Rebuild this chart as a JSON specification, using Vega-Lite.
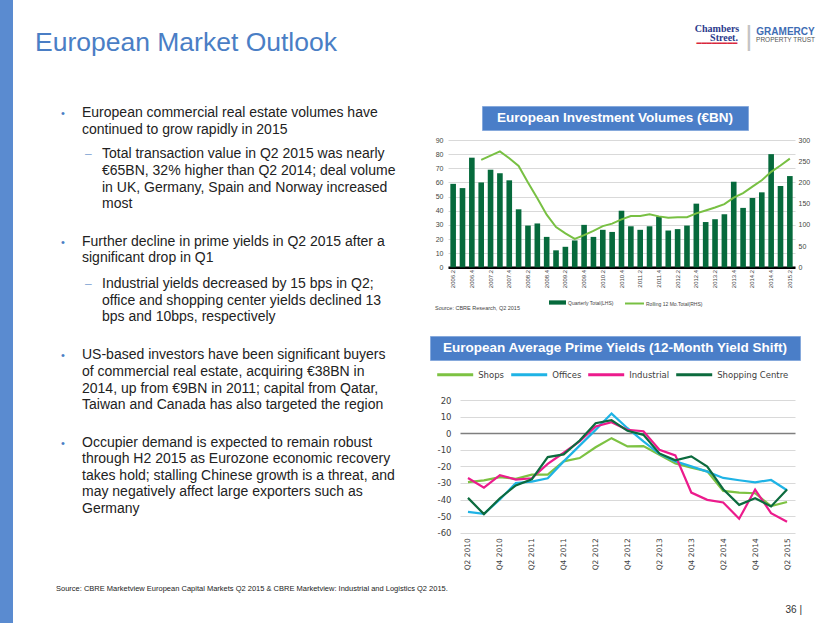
{
  "$schema": "https://vega.github.io/schema/vega-lite/v6.json",
  "padding": 0,
  "background": "white",
  "config": {
    "view": {"stroke": null},
    "font": "Liberation Sans",
    "concat": {"spacing": 0},
    "title": {"font": "Liberation Sans", "fontWeight": "normal"}
  },
  "title": {
    "text": "European Market Outlook",
    "anchor": "start",
    "frame": "group",
    "orient": "top",
    "offset": -77,
    "dx": 35,
    "baseline": "alphabetic",
    "fontSize": 26.5,
    "color": "#4a7ec5"
  },
  "bounds": "flush",
  "spacing": 0,
  "hconcat": [
    {
      "width": 13, "height": 623,
      "view": {"fill": "#5a8bd0", "stroke": null},
      "data": {"values": [{"t": ""}]},
      "mark": "text",
      "encoding": {"text": {"field": "t"}}
    },
    {
      "width": 407, "height": 580,
      "title": {"text": "Source: CBRE Marketview European Capital Markets Q2 2015 & CBRE Marketview: Industrial and Logistics Q2 2015.", "orient": "bottom", "anchor": "start", "frame": "group", "dx": 43, "offset": 5, "fontSize": 7.5, "color": "#222222", "baseline": "top"},
      "data": {"values": [
        {"level": 1, "line": 0, "bullet": "•", "text": ["European commercial real estate volumes have", "continued to grow rapidly in 2015"]},
        {"level": 2, "line": 2.47, "bullet": "–", "text": ["Total transaction value in Q2 2015 was nearly", "€65BN, 32% higher than Q2 2014; deal volume", "in UK, Germany, Spain and Norway increased", "most"]},
        {"level": 1, "line": 7.73, "bullet": "•", "text": ["Further decline in prime yields in Q2 2015 after a", "significant drop in Q1"]},
        {"level": 2, "line": 10.3, "bullet": "–", "text": ["Industrial yields decreased by 15 bps in Q2;", "office and shopping center yields declined 13", "bps and 10bps, respectively"]},
        {"level": 1, "line": 14.58, "bullet": "•", "text": ["US-based investors have been significant buyers", "of commercial real estate, acquiring €38BN in", "2014, up from €9BN in 2011; capital from Qatar,", "Taiwan and Canada has also targeted the region"]},
        {"level": 1, "line": 19.84, "bullet": "•", "text": ["Occupier demand is expected to remain robust", "through H2 2015 as Eurozone economic recovery", "takes hold; stalling Chinese growth is a threat, and", "may negatively affect large exporters such as", "Germany"]}
      ]},
      "encoding": {
        "x": {"field": "level", "type": "quantitative", "scale": {"domain": [-2.45, 17.9], "nice": false, "zero": false}, "axis": null},
        "y": {"field": "line", "type": "quantitative", "scale": {"domain": [-7.066, 27.87], "nice": false, "zero": false, "reverse": true}, "axis": null}
      },
      "layer": [
        {"mark": {"type": "text", "align": "left", "baseline": "alphabetic", "fontSize": 14, "lineHeight": 16.6, "color": "#222222"}, "encoding": {"text": {"field": "text"}}},
        {"transform": [{"filter": "datum.level == 1"}], "mark": {"type": "text", "align": "left", "baseline": "alphabetic", "fontSize": 11, "dx": -21, "color": "#4a7ec5"}, "encoding": {"text": {"field": "bullet"}}},
        {"transform": [{"filter": "datum.level == 2"}], "mark": {"type": "text", "align": "left", "baseline": "alphabetic", "fontSize": 12, "dx": -17, "color": "#8aaad6"}, "encoding": {"text": {"field": "bullet"}}}
      ]
    },
    {"width": 10, "height": 60, "data": {"values": [{}]}, "mark": "text", "encoding": {"text": {"value": ""}}},
    {
      "bounds": "flush", "spacing": 0,
      "vconcat": [
        {"width": 1, "height": 336, "data": {"values": [{}]}, "mark": "text", "encoding": {"text": {"value": ""}}},
        {"width": 370, "height": 24, "view": {"fill": "#4a7ec8", "stroke": "#86a9dc", "strokeWidth": 1},
         "data": {"values": [{"t": "European Average Prime Yields (12-Month Yield Shift)"}]},
         "mark": {"type": "text", "color": "white", "fontWeight": "bold", "fontSize": 13.5},
         "encoding": {"text": {"field": "t"}}}
      ]
    },
    {"width": 18, "height": 60, "data": {"values": [{}]}, "mark": "text", "encoding": {"text": {"value": ""}}},
    {
      "bounds": "flush", "spacing": 0,
      "vconcat": [
        {"width": 1, "height": 140, "data": {"values": [{}]}, "mark": "text", "encoding": {"text": {"value": ""}}},
        {
          "width": 347, "height": 127.3,
          "title": {"text": "Source: CBRE Research, Q2 2015", "orient": "bottom", "anchor": "start", "frame": "group", "dx": -13, "offset": 20, "fontSize": 5.5, "color": "#444444", "baseline": "middle"},
          "data": {"values": [
            {"q": "2006.2", "vol": 59, "roll": null},
            {"q": "2006.3", "vol": 56, "roll": null},
            {"q": "2006.4", "vol": 77.5, "roll": null},
            {"q": "2007.1", "vol": 60, "roll": 253},
            {"q": "2007.2", "vol": 69, "roll": 263},
            {"q": "2007.3", "vol": 66.5, "roll": 273},
            {"q": "2007.4", "vol": 61.5, "roll": 257},
            {"q": "2008.1", "vol": 41, "roll": 239},
            {"q": "2008.2", "vol": 29.5, "roll": 200},
            {"q": "2008.3", "vol": 31, "roll": 163},
            {"q": "2008.4", "vol": 21.5, "roll": 124},
            {"q": "2009.1", "vol": 12, "roll": 95},
            {"q": "2009.2", "vol": 14.5, "roll": 80},
            {"q": "2009.3", "vol": 19, "roll": 67},
            {"q": "2009.4", "vol": 30, "roll": 76},
            {"q": "2010.1", "vol": 21.5, "roll": 86},
            {"q": "2010.2", "vol": 26.5, "roll": 97},
            {"q": "2010.3", "vol": 25, "roll": 103},
            {"q": "2010.4", "vol": 40, "roll": 113},
            {"q": "2011.1", "vol": 29, "roll": 121},
            {"q": "2011.2", "vol": 26.5, "roll": 121},
            {"q": "2011.3", "vol": 29, "roll": 125},
            {"q": "2011.4", "vol": 36, "roll": 120},
            {"q": "2012.1", "vol": 26, "roll": 117},
            {"q": "2012.2", "vol": 27, "roll": 118},
            {"q": "2012.3", "vol": 29.5, "roll": 118},
            {"q": "2012.4", "vol": 45, "roll": 127},
            {"q": "2013.1", "vol": 32, "roll": 134},
            {"q": "2013.2", "vol": 34, "roll": 141},
            {"q": "2013.3", "vol": 37.5, "roll": 149},
            {"q": "2013.4", "vol": 60.5, "roll": 164},
            {"q": "2014.1", "vol": 42, "roll": 175},
            {"q": "2014.2", "vol": 49, "roll": 190},
            {"q": "2014.3", "vol": 53, "roll": 205},
            {"q": "2014.4", "vol": 80, "roll": 225},
            {"q": "2015.1", "vol": 57.5, "roll": 240},
            {"q": "2015.2", "vol": 64.5, "roll": 256}
          ]},
          "encoding": {
            "x": {"field": "q", "type": "ordinal", "sort": null,
                  "scale": {"paddingInner": 0.4, "paddingOuter": 0.25},
                  "axis": {"values": ["2006.2","2006.4","2007.2","2007.4","2008.2","2008.4","2009.2","2009.4","2010.2","2010.4","2011.2","2011.4","2012.2","2012.4","2013.2","2013.4","2014.2","2014.4","2015.2"],
                           "labelAngle": -90, "labelFontSize": 6, "labelColor": "#444444", "labelPadding": 2, "ticks": false,
                           "domain": true, "domainColor": "#000000", "domainWidth": 2.5, "grid": false, "title": null}}
          },
          "layer": [
            {
              "mark": {"type": "bar"},
              "encoding": {
                "y": {"field": "vol", "type": "quantitative", "scale": {"domain": [0, 90], "nice": false},
                      "axis": {"orient": "left", "values": [0,10,20,30,40,50,60,70,80,90], "labelOverlap": false, "labelFontSize": 7, "labelColor": "#444444", "ticks": false, "domain": false, "grid": true, "gridColor": "#d9d9d9", "labelPadding": 5, "title": null}},
                "fill": {"datum": "Quarterly Total(LHS)", "type": "nominal", "scale": {"range": ["#066a3c"]},
                         "legend": {"orient": "none", "legendX": 549, "legendY": 294, "title": null, "symbolType": "M-1,-0.25H1V0.25H-1Z", "symbolSize": 289, "symbolStrokeWidth": 0, "labelFontSize": 5, "labelColor": "#444444", "labelOffset": 2, "padding": 0}}
              }
            },
            {
              "mark": {"type": "line", "strokeWidth": 2},
              "encoding": {
                "y": {"field": "roll", "type": "quantitative", "scale": {"domain": [0, 300], "nice": false},
                      "axis": {"orient": "right", "values": [0,50,100,150,200,250,300], "labelOverlap": false, "labelFontSize": 7, "labelColor": "#444444", "ticks": false, "domain": false, "grid": false, "labelPadding": 3, "title": null}},
                "stroke": {"datum": "Rolling 12 Mo.Total(RHS)", "type": "nominal", "scale": {"range": ["#78c043"]},
                           "legend": {"orient": "none", "legendX": 624, "legendY": 293, "title": null, "symbolType": "stroke", "symbolSize": 361, "symbolStrokeWidth": 2, "labelFontSize": 5, "labelColor": "#444444", "labelOffset": 1, "padding": 0}}
              }
            }
          ],
          "resolve": {"scale": {"y": "independent"}}
        }
      ]
    },
    {"width": 12, "height": 60, "data": {"values": [{}]}, "mark": "text", "encoding": {"text": {"value": ""}}},
    {
      "bounds": "flush", "spacing": 0,
      "vconcat": [
        {"width": 1, "height": 400, "data": {"values": [{}]}, "mark": "text", "encoding": {"text": {"value": ""}}},
        {
          "width": 335, "height": 132.7,
          "title": {"text": "36 |", "orient": "bottom", "anchor": "end", "frame": "group", "dx": 7, "offset": 40.5, "fontSize": 10, "color": "#333333", "baseline": "middle"},
          "data": {"values": [
            {"q": "Q2 2010", "type": "Shops", "v": -29.5}, {"q": "Q3 2010", "type": "Shops", "v": -28.5}, {"q": "Q4 2010", "type": "Shops", "v": -26.5},
            {"q": "Q1 2011", "type": "Shops", "v": -27.5}, {"q": "Q2 2011", "type": "Shops", "v": -25}, {"q": "Q3 2011", "type": "Shops", "v": -25},
            {"q": "Q4 2011", "type": "Shops", "v": -17}, {"q": "Q1 2012", "type": "Shops", "v": -15}, {"q": "Q2 2012", "type": "Shops", "v": -8.5},
            {"q": "Q3 2012", "type": "Shops", "v": -3}, {"q": "Q4 2012", "type": "Shops", "v": -8}, {"q": "Q1 2013", "type": "Shops", "v": -7.8},
            {"q": "Q2 2013", "type": "Shops", "v": -13}, {"q": "Q3 2013", "type": "Shops", "v": -18.2}, {"q": "Q4 2013", "type": "Shops", "v": -20.8},
            {"q": "Q1 2014", "type": "Shops", "v": -23}, {"q": "Q2 2014", "type": "Shops", "v": -34.8}, {"q": "Q3 2014", "type": "Shops", "v": -35.8},
            {"q": "Q4 2014", "type": "Shops", "v": -36.2}, {"q": "Q1 2015", "type": "Shops", "v": -44}, {"q": "Q2 2015", "type": "Shops", "v": -41.5},
            {"q": "Q2 2010", "type": "Offices", "v": -47.5}, {"q": "Q3 2010", "type": "Offices", "v": -48.6}, {"q": "Q4 2010", "type": "Offices", "v": -40},
            {"q": "Q1 2011", "type": "Offices", "v": -30}, {"q": "Q2 2011", "type": "Offices", "v": -29.2}, {"q": "Q3 2011", "type": "Offices", "v": -27.2},
            {"q": "Q4 2011", "type": "Offices", "v": -17}, {"q": "Q1 2012", "type": "Offices", "v": -7.5}, {"q": "Q2 2012", "type": "Offices", "v": 2},
            {"q": "Q3 2012", "type": "Offices", "v": 11.8}, {"q": "Q4 2012", "type": "Offices", "v": 3}, {"q": "Q1 2013", "type": "Offices", "v": -5},
            {"q": "Q2 2013", "type": "Offices", "v": -12.5}, {"q": "Q3 2013", "type": "Offices", "v": -17}, {"q": "Q4 2013", "type": "Offices", "v": -20},
            {"q": "Q1 2014", "type": "Offices", "v": -23.2}, {"q": "Q2 2014", "type": "Offices", "v": -27}, {"q": "Q3 2014", "type": "Offices", "v": -28.4},
            {"q": "Q4 2014", "type": "Offices", "v": -29.6}, {"q": "Q1 2015", "type": "Offices", "v": -28.2}, {"q": "Q2 2015", "type": "Offices", "v": -34.4},
            {"q": "Q2 2010", "type": "Industrial", "v": -27}, {"q": "Q3 2010", "type": "Industrial", "v": -32.8}, {"q": "Q4 2010", "type": "Industrial", "v": -25.3},
            {"q": "Q1 2011", "type": "Industrial", "v": -28}, {"q": "Q2 2011", "type": "Industrial", "v": -27.2}, {"q": "Q3 2011", "type": "Industrial", "v": -18.5},
            {"q": "Q4 2011", "type": "Industrial", "v": -11.8}, {"q": "Q1 2012", "type": "Industrial", "v": -5}, {"q": "Q2 2012", "type": "Industrial", "v": 4},
            {"q": "Q3 2012", "type": "Industrial", "v": 6.6}, {"q": "Q4 2012", "type": "Industrial", "v": 2}, {"q": "Q1 2013", "type": "Industrial", "v": 1.2},
            {"q": "Q2 2013", "type": "Industrial", "v": -10}, {"q": "Q3 2013", "type": "Industrial", "v": -13.4}, {"q": "Q4 2013", "type": "Industrial", "v": -35.8},
            {"q": "Q1 2014", "type": "Industrial", "v": -40.2}, {"q": "Q2 2014", "type": "Industrial", "v": -41.8}, {"q": "Q3 2014", "type": "Industrial", "v": -51.6},
            {"q": "Q4 2014", "type": "Industrial", "v": -34}, {"q": "Q1 2015", "type": "Industrial", "v": -48.2}, {"q": "Q2 2015", "type": "Industrial", "v": -53.4},
            {"q": "Q2 2010", "type": "Shopping Centre", "v": -39}, {"q": "Q3 2010", "type": "Shopping Centre", "v": -48.8}, {"q": "Q4 2010", "type": "Shopping Centre", "v": -39.2},
            {"q": "Q1 2011", "type": "Shopping Centre", "v": -31.5}, {"q": "Q2 2011", "type": "Shopping Centre", "v": -27.8}, {"q": "Q3 2011", "type": "Shopping Centre", "v": -14.4},
            {"q": "Q4 2011", "type": "Shopping Centre", "v": -12.8}, {"q": "Q1 2012", "type": "Shopping Centre", "v": -4.4}, {"q": "Q2 2012", "type": "Shopping Centre", "v": 6},
            {"q": "Q3 2012", "type": "Shopping Centre", "v": 7.8}, {"q": "Q4 2012", "type": "Shopping Centre", "v": 1.4}, {"q": "Q1 2013", "type": "Shopping Centre", "v": -1},
            {"q": "Q2 2013", "type": "Shopping Centre", "v": -12.2}, {"q": "Q3 2013", "type": "Shopping Centre", "v": -16.4}, {"q": "Q4 2013", "type": "Shopping Centre", "v": -14},
            {"q": "Q1 2014", "type": "Shopping Centre", "v": -20.2}, {"q": "Q2 2014", "type": "Shopping Centre", "v": -33.8}, {"q": "Q3 2014", "type": "Shopping Centre", "v": -43.2},
            {"q": "Q4 2014", "type": "Shopping Centre", "v": -39.2}, {"q": "Q1 2015", "type": "Shopping Centre", "v": -44.2}, {"q": "Q2 2015", "type": "Shopping Centre", "v": -34}
          ]},
          "mark": {"type": "line", "strokeWidth": 2.2},
          "encoding": {
            "x": {"field": "q", "type": "ordinal", "sort": null, "scale": {"type": "point", "padding": 0.5},
                  "axis": {"values": ["Q2 2010","Q4 2010","Q2 2011","Q4 2011","Q2 2012","Q4 2012","Q2 2013","Q4 2013","Q2 2014","Q4 2014","Q2 2015"],
                           "labelAngle": -90, "labelFont": "DejaVu Sans", "labelFontSize": 7.5, "labelColor": "#404040", "labelPadding": 5, "labelOverlap": false,
                           "ticks": false, "domain": false, "grid": false, "title": null}},
            "y": {"field": "v", "type": "quantitative", "scale": {"domain": [-60, 20], "nice": false, "zero": false},
                  "axis": {"values": [-60,-50,-40,-30,-20,-10,0,10,20], "labelExpr": "'' + datum.value", "labelOverlap": false, "grid": true,
                           "gridColor": {"condition": {"test": "datum.value === 0", "value": "#7f7f7f"}, "value": "#d9d9d9"},
                           "gridWidth": {"condition": {"test": "datum.value === 0", "value": 1.5}, "value": 1},
                           "domain": false, "ticks": false,
                           "labelFont": "DejaVu Sans", "labelFontSize": 8.5, "labelColor": "#404040", "labelPadding": 9, "title": null}},
            "color": {"field": "type", "type": "nominal", "sort": ["Shops", "Offices", "Industrial", "Shopping Centre"],
                      "scale": {"domain": ["Shops", "Offices", "Industrial", "Shopping Centre"], "range": ["#7dc242", "#1fb3e5", "#ec1b8c", "#0c6b3e"]},
                      "legend": {"orient": "none", "legendX": 435.7, "legendY": 355.3, "direction": "horizontal", "title": null, "gridAlign": "none",
                                 "symbolType": "stroke", "symbolSize": 1296, "symbolStrokeWidth": 3,
                                 "labelFont": "DejaVu Sans", "labelFontSize": 8.5, "labelColor": "#404040", "labelOffset": 3.5, "columnPadding": 0, "padding": 0}}
          }
        }
      ]
    },
    {"width": 22, "height": 60, "data": {"values": [{}]}, "mark": "text", "encoding": {"text": {"value": ""}}},
    {
      "bounds": "flush", "spacing": 0,
      "vconcat": [
        {"width": 1, "height": 106, "data": {"values": [{}]}, "mark": "text", "encoding": {"text": {"value": ""}}},
        {"width": 266, "height": 24, "view": {"fill": "#4a7ec8", "stroke": "#86a9dc", "strokeWidth": 1},
         "data": {"values": [{"t": "European Investment Volumes (€BN)"}]},
         "mark": {"type": "text", "color": "white", "fontWeight": "bold", "fontSize": 13.5},
         "encoding": {"text": {"field": "t"}}}
      ]
    },
    {"width": 215, "height": 60, "data": {"values": [{}]}, "mark": "text", "encoding": {"text": {"value": ""}}},
    {
      "width": 120, "height": 106,
      "data": {"values": [{"l1": "Chambers", "l2": "Street.", "g1": "GRAMERCY", "g2": "PROPERTY TRUST"}]},
      "layer": [
        {"mark": {"type": "text", "font": "Liberation Serif", "fontWeight": "bold", "fontSize": 10, "color": "#2b3a8c", "dx": -40, "dy": -24.5}, "encoding": {"text": {"field": "l1"}}},
        {"mark": {"type": "text", "font": "Liberation Serif", "fontWeight": "bold", "fontSize": 10, "color": "#2b3a8c", "dx": -33, "dy": -15.5}, "encoding": {"text": {"field": "l2"}}},
        {"mark": {"type": "text", "font": "DejaVu Sans", "fontSize": 8.5, "color": "#d9263b", "dx": -40, "dy": -10.5}, "encoding": {"text": {"value": "━━━━━━━━"}}},
        {"mark": {"type": "text", "fontSize": 28, "color": "#c4c4c4", "dx": -8, "dy": -16}, "encoding": {"text": {"value": "|"}}},
        {"mark": {"type": "text", "fontWeight": "bold", "fontSize": 10, "color": "#3f6db4", "dx": 28.5, "dy": -21.3}, "encoding": {"text": {"field": "g1"}}},
        {"mark": {"type": "text", "fontSize": 6.5, "color": "#555555", "dx": 28.5, "dy": -13.5}, "encoding": {"text": {"field": "g2"}}}
      ]
    }
  ]
}
